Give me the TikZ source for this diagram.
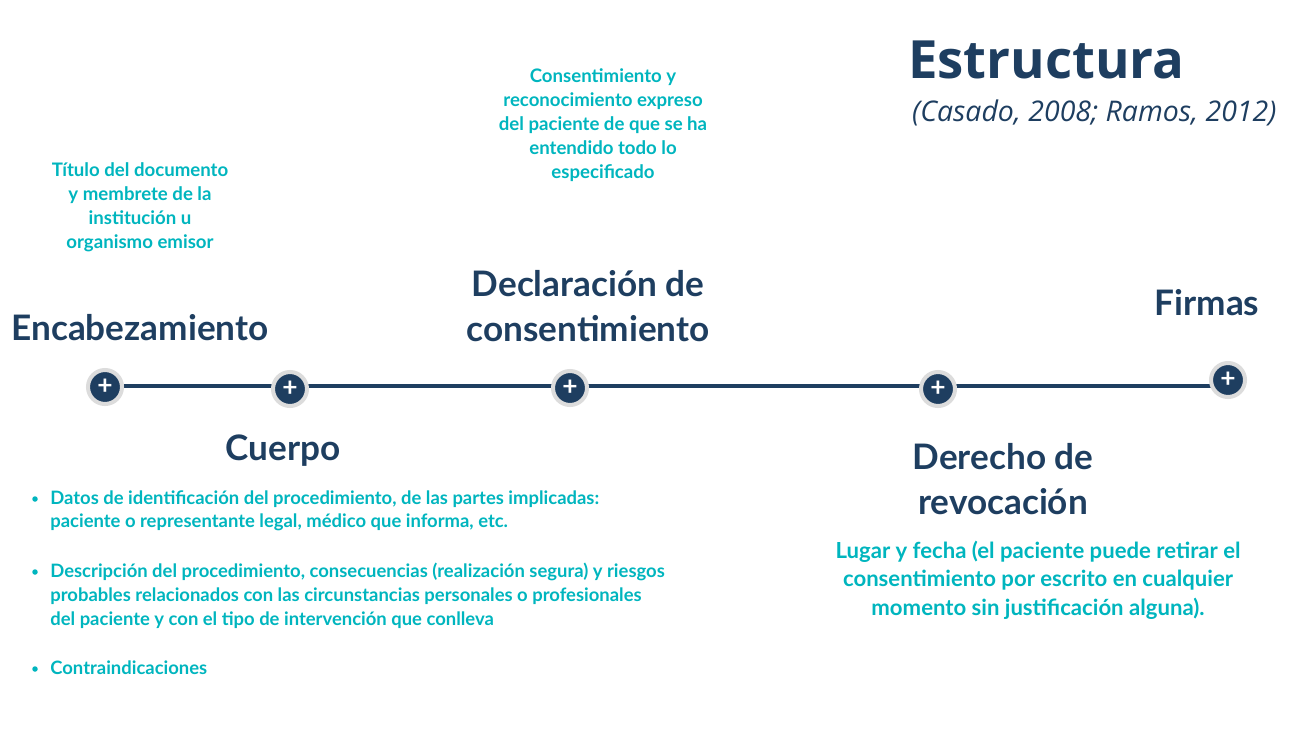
\documentclass[tikz,border=0pt]{standalone}
\usepackage{fontspec}
\setmainfont{Lato}
\newfontfamily\titlefont{Open Sans}
\usetikzlibrary{positioning}
\definecolor{navy}{HTML}{1E3E60}
\definecolor{teal}{HTML}{00B5BE}
\definecolor{ring}{HTML}{DCDCDC}
\tikzset{
  dot/.style={circle, fill=navy, draw=ring, line width=2.3pt, minimum size=0.68cm, inner sep=0pt,
    text=white, font=\fontsize{15}{15}\selectfont\bfseries},
  head/.style={text=navy, font=\fontsize{20}{25.5}\selectfont\bfseries, align=center},
  note/.style={text=teal, font=\fontsize{10.6}{13.6}\selectfont\bfseries, align=center},
  item/.style={note, align=left, anchor=north west, inner sep=0pt, font=\fontsize{10.5}{13.6}\selectfont\bfseries},
  bul/.style={circle, fill=teal, inner sep=0pt, minimum size=0.11cm},
}
\begin{document}
\begin{tikzpicture}[x=0.02cm, y=-0.02cm]
\useasboundingbox (0,0) rectangle (1300,730);
% timeline
\coordinate (tl0) at (105,386);
\coordinate (tl1) at (1222,386);
\draw[navy, line width=2pt] (tl0) -- (tl1);
\node[dot] (m0) at (105,387){+};
\node[dot] (m1) at (290,389){+};
\node[dot] (m2) at (570,388){+};
\node[dot] (m3) at (938,389){+};
\node[dot] (m4) at (1228,380){+};
% heads
\node[head] (enc) at (140,328){Encabezamiento};
\node[head] (cue) at (283,451){Cuerpo};
\node[head] (dec) at (588,306){Declaración de\\consentimiento};
\node[head] (der) at (1003,479){Derecho de\\revocación};
\node[head] (fir) at (1207,303){Firmas};
% notes
\node[note] (enc note) at (140,207){Título del documento\\y membrete de la\\institución u\\organismo emisor};
\node[note] (dec note) at (603,125){Consentimiento y\\reconocimiento expreso\\del paciente de que se ha\\entendido todo lo\\especificado};
\node[note, font=\fontsize{12.6}{16.2}\selectfont\bfseries] (der note) at (1038,580){Lugar y fecha (el paciente puede retirar el\\consentimiento por escrito en cualquier\\momento sin justificación alguna).};
% cuerpo items
\node[item] (it1) at (50,490){Datos de identificación del procedimiento, de las partes implicadas:\\paciente o representante legal, médico que informa, etc.};
\node[item] (it2) at (50,563){Descripción del procedimiento, consecuencias (realización segura) y riesgos\\probables relacionados con las circunstancias personales o profesionales\\del paciente y con el tipo de intervención que conlleva};
\node[item] (it3) at (50,660){Contraindicaciones};
\node[bul] (b1) at (35,499){};
\node[bul] (b2) at (35,572){};
\node[bul] (b3) at (35,669){};
% title
\node[text=navy, anchor=west, font=\titlefont\fontsize{30}{30}\selectfont\bfseries] (tit) at (902,60){Estructura};
\node[text=navy, anchor=west, font=\titlefont\fontsize{16.2}{16}\selectfont\itshape] (cit) at (906,113){(Casado, 2008; Ramos, 2012)};
\end{tikzpicture}
\end{document}
